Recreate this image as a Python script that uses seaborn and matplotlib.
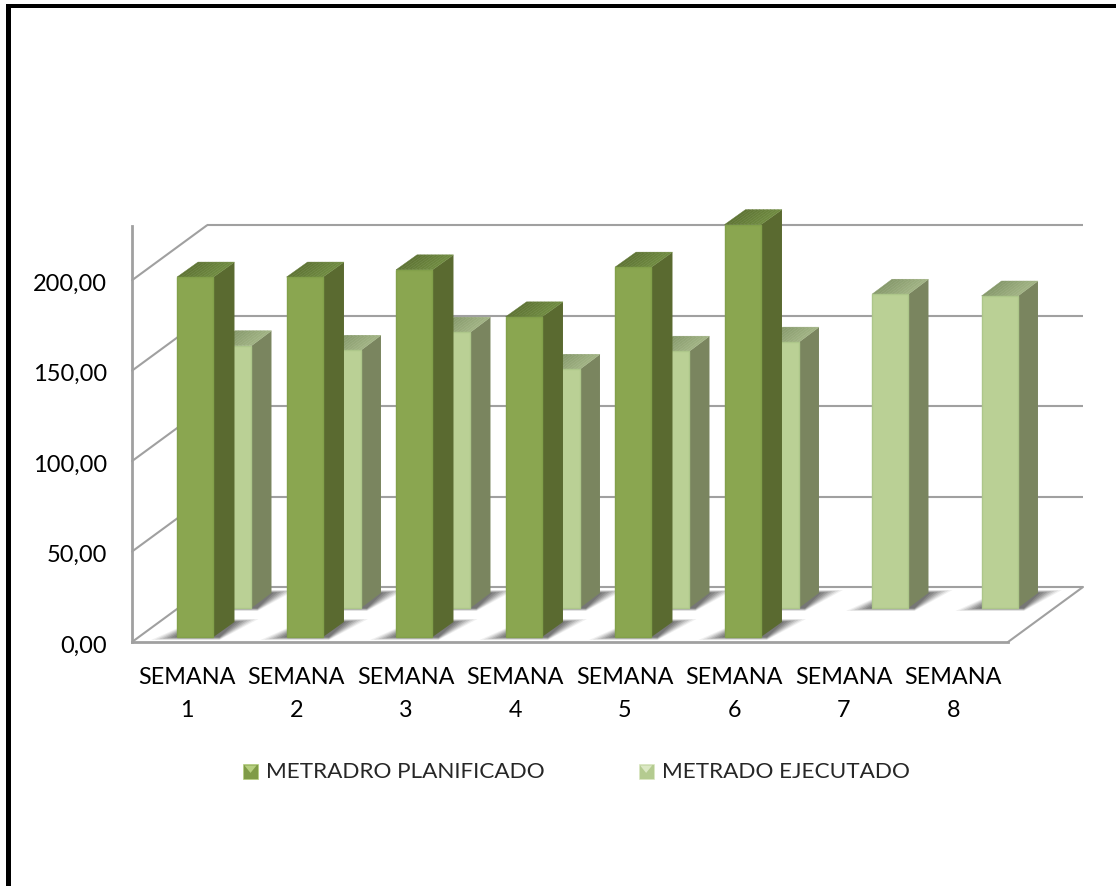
import numpy as np
import pandas as pd
import matplotlib
matplotlib.use("Agg")
import matplotlib.pyplot as plt
import seaborn as sns
from matplotlib.patches import Patch, Polygon, Rectangle
from matplotlib.legend_handler import HandlerBase
from matplotlib.transforms import Affine2D

weeks = ["SEMANA\n1", "SEMANA\n2", "SEMANA\n3", "SEMANA\n4",
         "SEMANA\n5", "SEMANA\n6", "SEMANA\n7", "SEMANA\n8"]
planificado = [199, 199, 203, 177, 204.5, 228, np.nan, np.nan]
ejecutado = [145, 142.5, 152.5, 132, 142, 147, 173.5, 172.5]
series_names = ["METRADRO PLANIFICADO", "METRADO EJECUTADO"]
y_ticks = [0, 50, 100, 150, 200]
y_labels = ["0,00", "50,00", "100,00", "150,00", "200,00"]

sns.set_style("white")
plt.rcParams["font.family"] = ["Lato", "DejaVu Sans"]

W, H = 1116, 886
L, R, B, T = 132, 1008, 642, 226
YMAX = 230
fig = plt.figure(figsize=(W / 100, H / 100), dpi=100, facecolor="white")
ax = fig.add_axes([L / W, 1 - B / H, (R - L) / W, (B - T) / H])

df = pd.DataFrame({
    "semana": weeks * 2,
    "valor": planificado + ejecutado,
    "serie": [series_names[0]] * 8 + [series_names[1]] * 8,
})
sns.barplot(data=df, x="semana", y="valor", hue="serie", hue_order=series_names,
            dodge=False, width=0.333, legend=False, saturation=1, ax=ax,
            palette={series_names[0]: "#8aa650", series_names[1]: "#bad095"})
ax.set_xlim(-0.5, 7.5)
ax.set_ylim(0, YMAX)

# pixel -> data helpers
SX = 8.0 / (R - L)
SY = YMAX / (B - T)

GRID = "#a0a0a0"
LW = 1.5
BACK_DX, BACK_DY = 75 * SX, 55 * SY
ax.hlines(y_ticks, -0.5 + BACK_DX, 7.5 + BACK_DX, color=GRID, lw=LW, zorder=1,
          clip_on=False, transform=ax.transData + Affine2D().translate(0, 55))
for v in y_ticks:
    ax.plot([-0.5, -0.5 + BACK_DX], [v, v + BACK_DY], color=GRID, lw=LW,
            zorder=1, clip_on=False)
ax.plot([7.5, 7.5 + BACK_DX], [0, BACK_DY], color=GRID, lw=LW, zorder=1, clip_on=False)

styles = [
    dict(off=(8.5, 5), depth=(21, 15), edge="#82a04a", side="#5a6a30",
         top0="#5f7535", top1="#6f8a40", z=5),
    dict(off=(46.5, 34), depth=(20, 15), edge="#adc68a", side="#7a855f",
         top0="#879a6c", top1="#a0b283", z=3),
]

for cont, st in zip(ax.containers, styles):
    ox, oy = st["off"]
    dx, dy = st["depth"]
    for p in cont.patches:
        h = p.get_height()
        if not np.isfinite(h) or h == 0:
            p.set_visible(False)
            continue
        x0 = p.get_x() + ox * SX
        x1 = x0 + p.get_width()
        y0 = oy * SY
        y1 = y0 + h
        # soft floor shadow
        for k, a in zip([1.0, 0.85, 0.7, 0.55, 0.4, 0.25, 0.1],
                        [0.08, 0.11, 0.14, 0.17, 0.20, 0.22, 0.24]):
            ax.add_patch(Polygon([
                (x0 - 26 * k * SX, y0 - 3 * k * SY), (x1 + 6 * SX, y0 - 3 * k * SY),
                (x1 + (dx + 24 * k) * SX, y0 + (dy + 3 * k) * SY),
                (x0 + dx * SX, y0 + (dy + 3 * k) * SY)],
                closed=True, fc="#444444", ec="none", alpha=a,
                zorder=2 if st["z"] == 3 else 2.5, clip_on=False))
        # side face
        ax.add_patch(Polygon([(x1, y0), (x1 + dx * SX, y0 + dy * SY),
                              (x1 + dx * SX, y1 + dy * SY), (x1, y1)],
                             closed=True, fc=st["side"], ec="none",
                             zorder=st["z"], clip_on=False))
        # top face, shaded from left to right
        c0 = np.array(matplotlib.colors.to_rgb(st["top0"]))
        c1 = np.array(matplotlib.colors.to_rgb(st["top1"]))
        n = 10
        wx = (x1 - x0) / n
        for i in range(n):
            ax.add_patch(Polygon([
                (x0 + i * wx, y1), (x0 + (i + 1) * wx, y1),
                (x0 + (i + 1) * wx + dx * SX, y1 + dy * SY),
                (x0 + i * wx + dx * SX, y1 + dy * SY)],
                closed=True, fc=c0 + (c1 - c0) * i / (n - 1), ec=c0 + (c1 - c0) * i / (n - 1),
                lw=0.3, zorder=st["z"], clip_on=False))
        # front face comes from seaborn, moved into depth
        p.set_transform(ax.transData + Affine2D().translate(ox, oy))
        p.set_edgecolor(st["edge"])
        p.set_linewidth(1.0)
        p.set_zorder(st["z"] + 0.5)
        p.set_clip_on(False)

sns.despine(ax=ax, top=True, right=True)
for s in ("left", "bottom"):
    ax.spines[s].set_color(GRID)
    ax.spines[s].set_linewidth(2.0)
    ax.spines[s].set_zorder(1.5)

ax.set_xlabel("")
ax.set_ylabel("")
ax.set_yticks(y_ticks)
ax.set_yticklabels(y_labels)
ax.tick_params(axis="y", length=0, pad=18, labelsize=17, labelcolor="black")
ax.tick_params(axis="x", length=0, pad=18, labelsize=16.8, labelcolor="black")
for t in ax.get_xticklabels():
    t.set_linespacing(1.68)
for t in ax.get_yticklabels():
    t.set_verticalalignment("center")
    t.set_transform(t.get_transform() + Affine2D().translate(0, -4))


class BevelHandler(HandlerBase):
    def __init__(self, dark, light):
        super().__init__()
        self.dark, self.light = dark, light

    def create_artists(self, legend, orig, xd, yd, w, h, fs, trans):
        s = 10.8
        x, y = 0, (h - s) / 2 - 1
        box = Rectangle((x, y), s, s, fc=self.dark, ec=self.light, lw=0.5, transform=trans)
        tri = Polygon([(x + 1, y + s - 1), (x + s - 1, y + s - 1), (x + s / 2, y + s / 2 - 1)],
                      closed=True, fc=self.light, ec="none", transform=trans)
        return [box, tri]


h1 = Patch(color="#8aa650", label=series_names[0])
h2 = Patch(color="#bad095", label=series_names[1])
leg = fig.legend(handles=[h1, h2], ncol=2, frameon=False, fontsize=16.2,
                 loc="center left", bbox_to_anchor=(243 / W, 1 - 772 / H),
                 borderaxespad=0, borderpad=0, handlelength=0.75, handletextpad=0.27,
                 columnspacing=4.18,
                 handler_map={h1: BevelHandler("#7f9b47", "#b6cf7f"),
                              h2: BevelHandler("#b4cb90", "#dbe8c4")})

# black frame of the picture (left and top only)
fig.add_artist(Rectangle((6 / W, 1 - 7.5 / H), 1 - 6 / W, 3.5 / H, transform=fig.transFigure,
                         fc="black", ec="none"))
fig.add_artist(Rectangle((6 / W, 0), 5 / W, 1 - 4 / H, transform=fig.transFigure,
                         fc="black", ec="none"))

fig.savefig("out.png", dpi=100, facecolor="white")
